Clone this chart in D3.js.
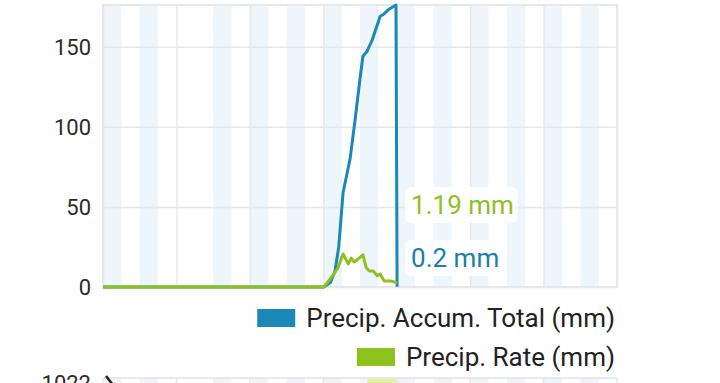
<!DOCTYPE html>
<html lang="en">
<head>
<meta charset="utf-8">
<title>Precipitation chart</title>
<script src="https://d3js.org/d3.v7.min.js"></script>
<style>
  body { margin: 0; background: #fff; }
  text { font-family: Roboto, "Noto Sans", sans-serif; }
</style>
</head>
<body>
<div id="chart"></div>
<script>
// x in hour slots (grid every 2 slots), y in mm
var accumX = [0, 6.02, 6.20, 6.32, 6.42, 6.54, 6.73, 6.87, 7.00, 7.08, 7.19, 7.33, 7.55, 7.63, 7.77, 7.98, 8.01];
var accumY = [0, 0, 3, 10, 25, 59, 80, 105, 130, 144, 147, 154, 169, 170, 173, 176, 0.2];

var rateX = [0, 6.02, 6.27, 6.40, 6.54, 6.68, 6.76, 6.84, 6.95, 7.08, 7.17, 7.25, 7.36, 7.47, 7.55, 7.66, 7.82, 7.96, 8.01];
var rateY = [0, 0, 7.5, 12, 20.6, 14.4, 18, 15.6, 17.5, 20, 12, 10, 10, 7, 8, 3.8, 3.8, 3, 2.5];

var bandStarts = [0, 1, 3, 4, 5, 6, 7, 8, 9, 10, 11, 12, 13];
var yTicks = [0, 50, 100, 150];
var seriesNames = ["Precip. Accum. Total (mm)", "Precip. Rate (mm)"];
var labelTexts = ["1.19 mm", "0.2 mm"];

var w = 720, h = 383;
var blue = "#1a88b9", green = "#8dc21c";
var gridColor = "#e6e8eb", bandColor = "#eef5fb";

var svg = d3.select("#chart").append("svg")
  .attr("width", w).attr("height", h);

var xScale = d3.scaleLinear().domain([0, 14]).range([103, 617]);
var yScale = d3.scaleLinear().domain([0, 176]).range([287, 5]);

// night bands
svg.selectAll("rect.band").data(bandStarts).enter().append("rect")
  .attr("class", "band")
  .attr("x", function(d){ return xScale(d); })
  .attr("y", yScale.range()[1])
  .attr("width", xScale(0.5) - xScale(0))
  .attr("height", yScale.range()[0] - yScale.range()[1])
  .attr("fill", bandColor);

// grid
svg.append("g")
  .attr("transform", "translate(0,5)")
  .call(d3.axisBottom(xScale).tickValues(d3.range(0, 15, 2)).tickSize(282).tickFormat(""))
  .call(function(g){ g.select(".domain").remove(); g.selectAll("line").attr("stroke", gridColor).attr("stroke-width", 1.5); });

svg.append("g")
  .attr("transform", "translate(103,0)")
  .call(d3.axisRight(yScale).tickValues(yTicks).tickSize(514).tickFormat(""))
  .call(function(g){ g.select(".domain").remove(); g.selectAll("line").attr("stroke", gridColor).attr("stroke-width", 1.5); });

svg.append("rect")
  .attr("x", 103).attr("y", 5).attr("width", 514).attr("height", 282)
  .attr("fill", "none").attr("stroke", gridColor).attr("stroke-width", 2);

// y labels
svg.append("g")
  .attr("transform", "translate(91,0)")
  .call(d3.axisLeft(yScale).tickValues(yTicks).tickSize(0).tickPadding(0))
  .call(function(g){
    g.select(".domain").remove();
    g.selectAll("text").attr("font-size", 22).attr("fill", "#2b2b2b")
      .attr("font-family", "Roboto, sans-serif").attr("dy", "0.35em");
  });

// lines
var accum = accumX.map(function(x, i){ return [x, accumY[i]]; });
var rate = rateX.map(function(x, i){ return [x, rateY[i]]; });
var line = d3.line()
  .x(function(d){ return xScale(d[0]); })
  .y(function(d){ return yScale(d[1]); });

svg.append("path").datum(accum).attr("d", line)
  .attr("fill", "none").attr("stroke", blue).attr("stroke-width", 3).attr("stroke-linejoin", "round");
svg.append("path").datum(rate).attr("d", line)
  .attr("fill", "none").attr("stroke", green).attr("stroke-width", 3).attr("stroke-linejoin", "round");

// value labels
var endX = xScale(accumX[accumX.length - 1]);
var labels = [
  {text: labelTexts[0], color: "#8fc024", y: 205},
  {text: labelTexts[1], color: "#1a7fab", y: 258}
];
labels.forEach(function(l){
  var t = svg.append("text").attr("x", endX + 14).attr("y", l.y)
    .attr("dy", "0.35em").attr("font-size", 26).attr("fill", l.color).text(l.text);
  var bb = t.node().getBBox();
  svg.insert("rect", function(){ return t.node(); })
    .attr("x", bb.x - 6).attr("y", bb.y - 3).attr("width", bb.width + 10).attr("height", bb.height + 6)
    .attr("rx", 6).attr("fill", "#fff").attr("fill-opacity", 0.85);
});

// legend
var legend = svg.append("g");
var legendRows = [
  {name: seriesNames[0], color: blue, y: 318},
  {name: seriesNames[1], color: green, y: 357}
];
legendRows.forEach(function(r){
  var t = legend.append("text").attr("x", 615).attr("y", r.y).attr("dy", "0.35em")
    .attr("text-anchor", "end").attr("font-size", 26).attr("fill", "#222").text(r.name);
  var bb = t.node().getBBox();
  legend.append("rect").attr("x", bb.x - 49).attr("y", r.y - 9)
    .attr("width", 38).attr("height", 18).attr("fill", r.color);
});

// top of next chart (pressure)
var y2 = 378;
svg.selectAll("rect.band2").data(bandStarts).enter().append("rect")
  .attr("x", function(d){ return xScale(d); })
  .attr("y", y2).attr("width", xScale(0.5) - xScale(0)).attr("height", h - y2)
  .attr("fill", bandColor);
svg.append("rect").attr("x", xScale(7.2)).attr("y", y2 + 1)
  .attr("width", xScale(8) - xScale(7.2)).attr("height", h - y2)
  .attr("fill", "#e4f29a");
svg.append("line").attr("x1", 103).attr("x2", 617).attr("y1", y2).attr("y2", y2)
  .attr("stroke", gridColor).attr("stroke-width", 2);
svg.selectAll("line.vg2").data(d3.range(0, 15, 2)).enter().append("line")
  .attr("x1", function(d){ return xScale(d); }).attr("x2", function(d){ return xScale(d); })
  .attr("y1", y2).attr("y2", h).attr("stroke", gridColor).attr("stroke-width", 1.5);
svg.append("path").attr("d", "M106,376 L113,385").attr("stroke", "#222").attr("stroke-width", 2.5);
svg.append("text").attr("x", 91).attr("y", 391).attr("text-anchor", "end")
  .attr("font-size", 22).attr("fill", "#2b2b2b").text("1022");
</script>
</body>
</html>
